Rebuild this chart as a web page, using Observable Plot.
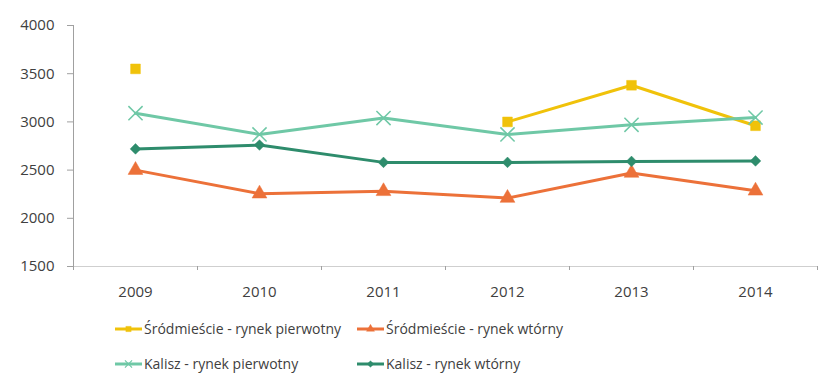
<!DOCTYPE html>
<html><head><meta charset="utf-8">
<script src="https://cdn.jsdelivr.net/npm/d3@7"></script>
<script src="https://cdn.jsdelivr.net/npm/@observablehq/plot@0.6"></script>
<style>
body{margin:0;background:#fff;font-family:"Open Sans",sans-serif;}
#legend{display:grid;grid-template-columns:242px 260px;padding-left:115px;margin-top:6px;row-gap:0;}
.item{display:flex;align-items:center;height:35px;font-size:14px;color:#404040;}
.item svg{margin-right:2px;}
</style>
</head><body>
<div id="chart"></div>
<div id="legend"></div>
<script>
const years = [2009, 2010, 2011, 2012, 2013, 2014];
const seriesNames = [
  "Śródmieście - rynek pierwotny",
  "Śródmieście - rynek wtórny",
  "Kalisz - rynek pierwotny",
  "Kalisz - rynek wtórny"
];
const srodPierwotny = [3550, null, null, 3000, 3380, 2960];
const srodWtorny = [2500, 2255, 2280, 2210, 2470, 2285];
const kaliszPierwotny = [3090, 2870, 3040, 2870, 2970, 3045];
const kaliszWtorny = [2720, 2760, 2580, 2580, 2590, 2595];
const yTicks = [1500, 2000, 2500, 3000, 3500, 4000];
const colors = ["#F0C20A", "#EC7139", "#6FC8A6", "#2E8C6C"];
const symbols = ["square", "triangle", "times", "diamond2"];

const allValues = [srodPierwotny, srodWtorny, kaliszPierwotny, kaliszWtorny];
const data = [];
allValues.forEach((vals, si) => {
  vals.forEach((v, i) => data.push({series: seriesNames[si], year: years[i], value: v, si}));
});
const boundaries = [years[0] - 0.5, ...years.map(y => y + 0.5)];

const marks = [
  Plot.ruleY([yTicks[0]], {stroke: "#cfcfcf"}),
  Plot.ruleX([boundaries[0]], {stroke: "#a0a0a0"}),
  Plot.axisY({ticks: yTicks, tickSize: 6, tickPadding: 13, stroke: "#a0a0a0", fill: "#404040", fontSize: 15, tickFormat: d => String(d), label: null}),
  Plot.axisX({ticks: boundaries, tickSize: 4, stroke: "#a0a0a0", tickFormat: () => "", label: null}),
  Plot.axisX({ticks: years, tickSize: 0, tickPadding: 20, fill: "#404040", fontSize: 15, tickFormat: d => String(d), label: null})
];
seriesNames.forEach((name, si) => {
  const d = data.filter(r => r.si === si);
  marks.push(Plot.line(d, {x: "year", y: "value", stroke: colors[si], strokeWidth: 3}));
  const filled = symbols[si] !== "times";
  marks.push(Plot.dot(d.filter(r => r.value != null), {
    x: "year", y: "value", symbol: () => symbols[si], r: si === 2 ? 6.5 : si === 3 ? 4.8 : 5.5,
    fill: filled ? colors[si] : "none", stroke: colors[si], strokeWidth: filled ? 0.5 : 1.5
  }));
});

const chart = Plot.plot({
  width: 818, height: 305,
  marginTop: 25, marginBottom: 39, marginLeft: 73, marginRight: 1,
  style: {fontFamily: "Open Sans, sans-serif", background: "#fff"},
  x: {type: "linear", domain: [years[0] - 0.5, years[years.length - 1] + 0.5], axis: null},
  y: {domain: [yTicks[0], yTicks[yTicks.length - 1]], axis: null},
  symbol: {type: "identity"},
  marks
});
document.getElementById("chart").appendChild(chart);

const legend = document.getElementById("legend");
seriesNames.forEach((name, si) => {
  const item = document.createElement("div");
  item.className = "item";
  const sym = d3.symbol(si === 0 ? d3.symbolSquare : si === 1 ? d3.symbolTriangle : si === 2 ? d3.symbolTimes : d3.symbolDiamond2, si === 2 ? 60 : 50)();
  const filled = si !== 2;
  item.innerHTML = `<svg width="27" height="14"><line x1="0" x2="27" y1="7" y2="7" stroke="${colors[si]}" stroke-width="3"/><path transform="translate(13.5,7) scale(0.75)" d="${sym}" fill="${filled ? colors[si] : "none"}" stroke="${colors[si]}" stroke-width="${filled ? 0.5 : 1.5}"/></svg><span>${name}</span>`;
  legend.appendChild(item);
});
</script>
</body></html>
